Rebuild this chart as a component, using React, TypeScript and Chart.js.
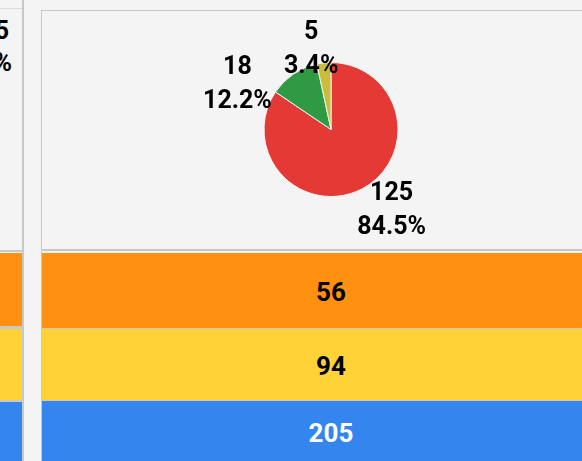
import React, { useEffect, useRef } from "react";
import { Chart, registerables } from "chart.js";

Chart.register(...registerables);

// ---- data ----
const sliceNames = ["Slice 1", "Slice 2", "Slice 3"];
const sliceValues = [125, 18, 5];
const sliceColors = ["#e53935", "#2f9a43", "#c8bd3c"];

const tileValues = [56, 94, 205];
const tileColors = ["#ff9010", "#ffd337", "#3486ee"];
const tileTextColors = ["#000000", "#000000", "#ffffff"];

const leftCutLines = ["5", "%"];

// ---- label plugin: value + percent outside each slice ----
const LABEL_FONT = "bold 25px Roboto";
const LINE_GAP = 34;
const HALF_H = 26;
const ANGLE_SHIFT = (-6 * Math.PI) / 180;
const MARGIN = 12;
const CLAMP_TOP = 39;
const CLAMP_BOTTOM = 28;

const outLabels = {
  id: "outLabels",
  afterDatasetsDraw(chart: any) {
    const ctx = chart.ctx as CanvasRenderingContext2D;
    const meta = chart.getDatasetMeta(0);
    const data = chart.data.datasets[0].data as number[];
    const total = data.reduce((a, b) => a + b, 0);
    ctx.save();
    ctx.font = LABEL_FONT;
    const items = meta.data.map((arc: any, i: number) => {
      const p = arc.getProps(["x", "y", "startAngle", "endAngle", "outerRadius"], true);
      const l1 = String(data[i]);
      const l2 = ((data[i] / total) * 100).toFixed(1) + "%";
      const w = Math.max(ctx.measureText(l1).width, ctx.measureText(l2).width);
      return { p, l1, l2, w, ang: (p.startAngle + p.endAngle) / 2 + ANGLE_SHIFT, cx: 0, cy: 0 };
    });
    const place = (it: any) => {
      const vx = Math.cos(it.ang);
      const vy = Math.sin(it.ang);
      const vs = 1 / Math.max(Math.abs(vx), Math.abs(vy));
      it.cx = it.p.x + it.p.outerRadius * vx + (it.w / 2) * vx * vs;
      it.cy = it.p.y + it.p.outerRadius * vy + HALF_H * vy * vs;
      it.cy = Math.min(Math.max(it.cy, CLAMP_TOP), chart.height - CLAMP_BOTTOM);
    };
    items.forEach(place);
    const overlap = (a: any, b: any) =>
      Math.abs(a.cx - b.cx) < (a.w + b.w) / 2 + MARGIN && Math.abs(a.cy - b.cy) < LINE_GAP * 2;
    for (let iter = 0; iter < 90; iter++) {
      let moved = false;
      for (let i = 0; i < items.length; i++) {
        for (let j = i + 1; j < items.length; j++) {
          if (overlap(items[i], items[j])) {
            const a = items[i].ang < items[j].ang ? items[i] : items[j];
            a.ang -= Math.PI / 180;
            place(a);
            moved = true;
          }
        }
      }
      if (!moved) break;
    }
    ctx.fillStyle = "#000";
    ctx.textAlign = "center";
    ctx.textBaseline = "middle";
    items.forEach((it: any) => {
      ctx.fillText(it.l1, it.cx, it.cy - LINE_GAP / 2);
      ctx.fillText(it.l2, it.cx, it.cy + LINE_GAP / 2);
    });
    ctx.restore();
  },
};

function PieChart() {
  const ref = useRef<HTMLCanvasElement | null>(null);
  useEffect(() => {
    let chart: Chart | null = null;
    let cancelled = false;
    const make = () => {
      if (cancelled || !ref.current) return;
      chart = new Chart(ref.current, {
        type: "pie",
        data: {
          labels: sliceNames,
          datasets: [
            {
              data: sliceValues,
              backgroundColor: sliceColors,
              borderColor: "#f4f4f4",
              borderWidth: 1,
            },
          ],
        },
        options: {
          responsive: false,
          animation: false,
          layout: { padding: { top: 51, bottom: 51, left: 0, right: 0 } },
          plugins: { legend: { display: false }, tooltip: { enabled: false } },
        },
        plugins: [outLabels],
      });
    };
    const f = (document as any).fonts;
    if (f && f.load) {
      f.load(LABEL_FONT).then(make, make);
    } else make();
    return () => {
      cancelled = true;
      if (chart) chart.destroy();
    };
  }, []);
  return (
    <canvas
      ref={ref}
      width={578}
      height={237}
      style={{ position: "absolute", left: 42, top: 11, width: 578, height: 237 }}
    />
  );
}

const border = "#c8c8c8";

export default function App() {
  const tileText = (i: number) => ({
    color: tileTextColors[i],
    font: "bold 26px Roboto",
    display: "flex",
    alignItems: "center",
    justifyContent: "center",
    paddingTop: 2,
    boxSizing: "border-box" as const,
  });
  const rightTiles = [
    { top: 253, height: 75 },
    { top: 329, height: 71 },
    { top: 401, height: 62 },
  ];
  const leftTiles = [
    { top: 253, height: 73 },
    { top: 329, height: 71 },
    { top: 402, height: 62 },
  ];
  return (
    <div
      style={{
        position: "fixed",
        inset: 0,
        background: "#f4f4f4",
        overflow: "hidden",
        fontFamily: "Roboto, sans-serif",
      }}
    >
      {/* left card (cut off) */}
      <div style={{ position: "absolute", left: -556, top: 8, width: 578, height: 1, background: "#dcdcdc" }} />
      <div style={{ position: "absolute", left: -556, top: 250, width: 578, height: 2, background: border }} />
      <div style={{ position: "absolute", left: -556, top: 326, width: 578, height: 3, background: border }} />
      <div style={{ position: "absolute", left: -556, top: 400, width: 578, height: 2, background: border }} />
      {leftTiles.map((t, i) => (
        <div
          key={"l" + i}
          style={{ position: "absolute", left: -556, top: t.top, width: 578, height: t.height, background: tileColors[i] }}
        />
      ))}
      <div
        style={{
          position: "absolute",
          left: -100,
          top: 14,
          width: 109,
          textAlign: "right",
          font: "bold 25px Roboto",
          lineHeight: "34px",
          color: "#000",
        }}
      >
        {leftCutLines[0]}
      </div>
      <div
        style={{
          position: "absolute",
          left: -100,
          top: 46,
          width: 112,
          textAlign: "right",
          font: "bold 25px Roboto",
          lineHeight: "34px",
          color: "#000",
        }}
      >
        {leftCutLines[1]}
      </div>
      <div style={{ position: "absolute", left: 22, top: 0, width: 2, height: 461, background: border }} />

      {/* right card */}
      <div style={{ position: "absolute", left: 41, top: 10, width: 600, height: 1, background: border }} />
      <div style={{ position: "absolute", left: 41, top: 10, width: 1, height: 460, background: border }} />
      <PieChart />
      <div style={{ position: "absolute", left: 42, top: 249, width: 600, height: 2, background: border }} />
      <div style={{ position: "absolute", left: 42, top: 328, width: 600, height: 1, background: border }} />
      <div style={{ position: "absolute", left: 42, top: 400, width: 600, height: 1, background: border }} />
      {rightTiles.map((t, i) => (
        <div
          key={"r" + i}
          style={{
            position: "absolute",
            left: 42,
            top: t.top,
            width: 578,
            height: t.height,
            background: tileColors[i],
            ...tileText(i),
          }}
        >
          {tileValues[i]}
        </div>
      ))}
    </div>
  );
}
